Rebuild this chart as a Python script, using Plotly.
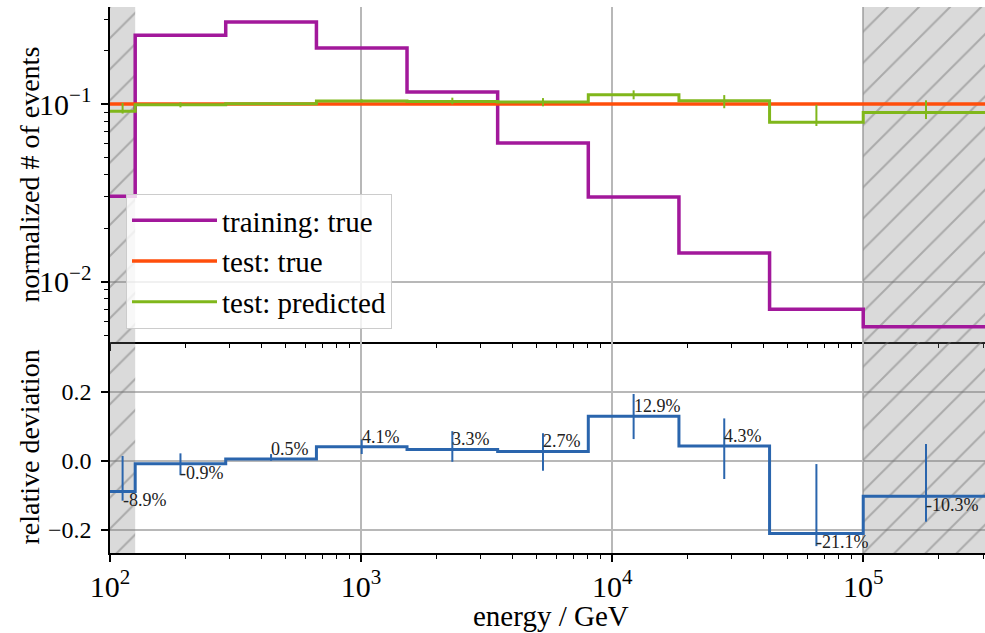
import numpy as np
import plotly.graph_objects as go

# ---------------- data ----------------
bin_edges = [100, 126, 289, 664, 1524, 3499, 8035, 18450, 42360, 100000, 316200]
train_true = [0.0303, 0.244, 0.289, 0.2065, 0.117, 0.0604, 0.0300, 0.0145, 0.0070, 0.00558]
test_true = [0.1, 0.1, 0.1, 0.1, 0.1, 0.1, 0.1, 0.1, 0.1, 0.1]
test_pred = [0.0911, 0.0991, 0.1005, 0.1041, 0.1033, 0.1027, 0.1129, 0.1043, 0.0789, 0.0897]
pred_hi = [0.1014, 0.1022, 0.1020, 0.1062, 0.1086, 0.1080, 0.1194, 0.1123, 0.0990, 0.1049]
pred_lo = [0.0884, 0.0958, 0.1000, 0.1020, 0.0997, 0.0971, 0.1063, 0.0947, 0.0752, 0.0823]
rel_dev = [-0.089, -0.009, 0.005, 0.041, 0.033, 0.027, 0.129, 0.043, -0.211, -0.103]
dev_hi = [0.014, 0.0215, 0.0195, 0.062, 0.086, 0.080, 0.194, 0.123, -0.0096, 0.0486]
dev_lo = [-0.116, -0.042, 0.0, 0.0195, -0.003, -0.029, 0.063, -0.053, -0.248, -0.177]
dev_labels = ["-8.9%", "-0.9%", "0.5%", "4.1%", "3.3%", "2.7%", "12.9%", "4.3%", "-21.1%", "-10.3%"]
valid_lo, valid_hi = 126, 100000

# ---------------- style ----------------
FONT = "Liberation Serif"
C_TRAIN = "#a2189b"
C_TRUE = "#ff4e0b"
C_PRED = "#80b71b"
C_DEV = "#2a65ad"
GRID = "#b8b8b8"

X_RANGE = [2.0, 5.485]
Y1_RANGE = [-2.339, -0.454]
Y2_RANGE = [-0.268, 0.345]

edges = np.array(bin_edges, dtype=float)
centers = np.sqrt(edges[:-1] * edges[1:])
x_max = 10 ** 5.5

def step_y(vals):
    return list(vals) + [vals[-1]]

fig = go.Figure()

hatch = dict(shape="/", bgcolor="rgba(120,120,120,0.28)", fgcolor="rgba(110,110,110,0.45)",
             size=22, solidity=0.09)

# hatched invalid regions in both panels
for (ax, ay, yr, lin) in [("x", "y", Y1_RANGE, True), ("x2", "y2", Y2_RANGE, False)]:
    ylo = 10 ** yr[0] if lin else yr[0]
    yhi = 10 ** yr[1] if lin else yr[1]
    for (a, b) in [(edges[0], valid_lo), (valid_hi, x_max)]:
        fig.add_trace(go.Scatter(
            x=[a, b, b, a, a], y=[ylo, ylo, yhi, yhi, ylo], mode="lines",
            fill="toself", fillcolor="rgba(0,0,0,0)", fillpattern=hatch,
            line=dict(width=0), hoverinfo="skip", showlegend=False,
            xaxis=ax, yaxis=ay))

# top panel
fig.add_trace(go.Scatter(x=edges, y=step_y(train_true), mode="lines", line_shape="hv",
                         line=dict(color=C_TRAIN, width=3.5), name="training: true",
                         legendgroup="a", xaxis="x", yaxis="y"))
fig.add_trace(go.Scatter(x=edges, y=step_y(test_true), mode="lines", line_shape="hv",
                         line=dict(color=C_TRUE, width=3.5), name="test: true",
                         legendgroup="b", xaxis="x", yaxis="y"))
fig.add_trace(go.Scatter(x=edges, y=step_y(test_pred), mode="lines", line_shape="hv",
                         line=dict(color=C_PRED, width=3), name="test: predicted",
                         legendgroup="c", xaxis="x", yaxis="y"))
fig.add_trace(go.Scatter(
    x=centers, y=test_pred, mode="markers",
    marker=dict(size=1, color="rgba(0,0,0,0)"),
    error_y=dict(type="data", symmetric=False,
                 array=[h - v for h, v in zip(pred_hi, test_pred)],
                 arrayminus=[v - l for l, v in zip(pred_lo, test_pred)],
                 width=0, thickness=2, color=C_PRED),
    showlegend=False, hoverinfo="skip", xaxis="x", yaxis="y"))

# bottom panel
fig.add_trace(go.Scatter(x=edges, y=step_y(rel_dev), mode="lines", line_shape="hv",
                         line=dict(color=C_DEV, width=3), showlegend=False,
                         xaxis="x2", yaxis="y2"))
fig.add_trace(go.Scatter(
    x=centers, y=rel_dev, mode="markers",
    marker=dict(size=1, color="rgba(0,0,0,0)"),
    error_y=dict(type="data", symmetric=False,
                 array=[h - v for h, v in zip(dev_hi, rel_dev)],
                 arrayminus=[v - l for l, v in zip(dev_lo, rel_dev)],
                 width=0, thickness=2, color=C_DEV),
    showlegend=False, hoverinfo="skip", xaxis="x2", yaxis="y2"))

annotations = []
for c, v, t in zip(centers, rel_dev, dev_labels):
    annotations.append(dict(
        x=np.log10(c), y=v, xref="x2", yref="y2", text=t, showarrow=False,
        xanchor="left", yanchor="bottom" if v >= 0 else "top",
        xshift=-2, yshift=-2 if v >= 0 else 3,
        font=dict(family=FONT, size=18, color="#222222")))

W, H = 985, 633
L, R, T, B = 110, 0, 7, 80
pw, ph = W - L - R, H - T - B
split = (553 - 342) / ph

TITLE_SIZE = 28
annotations.append(dict(text="normalized # of events", xref="paper", yref="paper",
                        x=(29 - L) / pw, y=(split + 1) / 2, textangle=-90,
                        showarrow=False, xanchor="center", yanchor="middle",
                        font=dict(family=FONT, size=TITLE_SIZE, color="black")))
annotations.append(dict(text="relative deviation", xref="paper", yref="paper",
                        x=(29 - L) / pw, y=split / 2, textangle=-90,
                        showarrow=False, xanchor="center", yanchor="middle",
                        font=dict(family=FONT, size=TITLE_SIZE, color="black")))
annotations.append(dict(text="energy / GeV", xref="paper", yref="paper",
                        x=(551 - L) / pw, y=(553 - 616) / ph,
                        showarrow=False, xanchor="center", yanchor="middle",
                        font=dict(family=FONT, size=29, color="black")))

axis_common = dict(showline=True, linecolor="black", linewidth=1.5, mirror=False,
                   ticks="outside", ticklen=7, tickwidth=1.5, tickcolor="black",
                   showgrid=True, gridcolor=GRID, gridwidth=1.5, zeroline=False,
                   tickfont=dict(family=FONT, size=24, color="black"))
minor_log = dict(ticks="outside", ticklen=4, tickwidth=1.2, tickcolor="black",
                 showgrid=False, dtick="D1")

fig.update_layout(
    width=W, height=H, template="none",
    margin=dict(l=L, r=R, t=T, b=B, autoexpand=False),
    paper_bgcolor="white", plot_bgcolor="rgba(0,0,0,0)",
    font=dict(family=FONT, size=24, color="black"),
    showlegend=True,
    legend=dict(x=(126 - L) / pw, y=(553 - 329) / ph, xanchor="left", yanchor="bottom",
                bgcolor="rgba(255,255,255,0.8)", bordercolor="#cccccc", borderwidth=1,
                font=dict(family=FONT, size=29, color="black"), tracegroupgap=0,
                itemwidth=85),
    xaxis=dict(type="log", range=X_RANGE, domain=[0, 1], anchor="y", dtick=1,
               showticklabels=False, minor=minor_log, matches="x2", **axis_common),
    xaxis2=dict(type="log", range=X_RANGE, domain=[0, 1], anchor="y2", dtick=1,
                exponentformat="power", minor=minor_log, **axis_common),
    yaxis=dict(type="log", range=Y1_RANGE, domain=[split, 1], anchor="x", dtick=1,
               exponentformat="power", minor=minor_log, ticklabelstandoff=5,
               **axis_common),
    yaxis2=dict(range=Y2_RANGE, domain=[0, split], anchor="x2",
                tickvals=[-0.2, 0.0, 0.2], tickformat=".1f", ticklabelstandoff=5,
                **axis_common),
    annotations=annotations,
)

fig.write_html("out.html")
